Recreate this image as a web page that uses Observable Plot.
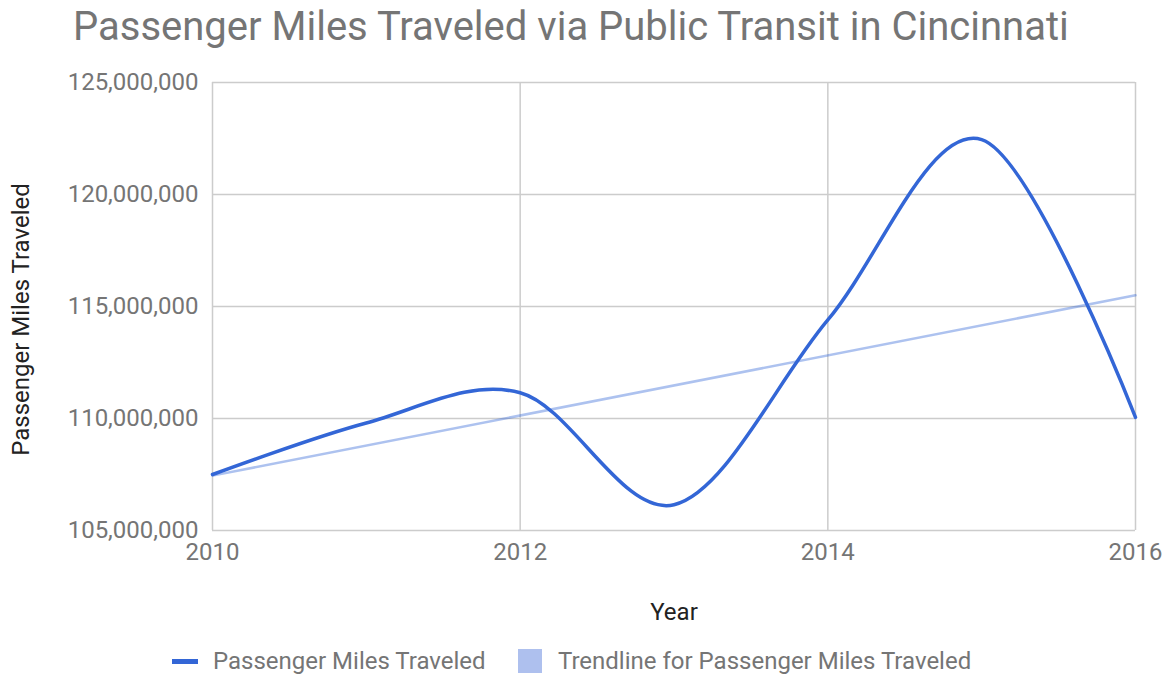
<!DOCTYPE html>
<html>
<head>
<meta charset="utf-8">
<script src="https://cdn.jsdelivr.net/npm/d3@7"></script>
<script src="https://cdn.jsdelivr.net/npm/@observablehq/plot@0.6"></script>
<style>
  html, body { margin: 0; padding: 0; background: #fff; }
  #wrap { position: relative; width: 1169px; height: 676px; font-family: Roboto, sans-serif; overflow: hidden; }
  #title { position: absolute; left: 73px; top: 7px; font-size: 40px; line-height: 40px; color: #757575; white-space: nowrap; }
  #chart { position: absolute; left: 0; top: 70px; }
  .leg { position: absolute; top: 646px; height: 30px; display: flex; align-items: center; font-size: 24px; color: #757575; white-space: nowrap; }
  .sw-line { width: 26px; height: 5px; background: #3366d6; margin-right: 15px; }
  .sw-box { width: 24px; height: 24px; background: #aec0ee; margin-right: 16px; }
</style>
</head>
<body>
<div id="wrap">
  <div id="title"></div>
  <div id="chart"></div>
  <div class="leg" id="leg1" style="left:172px"><div class="sw-line"></div><span></span></div>
  <div class="leg" id="leg2" style="left:518px"><div class="sw-box"></div><span></span></div>
</div>
<script>
const titleText = "Passenger Miles Traveled via Public Transit in Cincinnati";
const xTitle = "Year";
const yTitle = "Passenger Miles Traveled";
const seriesName = "Passenger Miles Traveled";
const trendName = "Trendline for Passenger Miles Traveled";

const years = [2010, 2011, 2012, 2013, 2014, 2015, 2016];
const miles = [107500000, 109800000, 111150000, 106150000, 114400000, 122450000, 110050000];

const trendYears = [2010, 2016];
const trendValues = [107450000, 115500000];

const xTicks = [2010, 2012, 2014, 2016];
const yTicks = [105000000, 110000000, 115000000, 120000000, 125000000];

const data = years.map((y, i) => ({year: y, value: miles[i]}));
const trend = trendYears.map((y, i) => ({year: y, value: trendValues[i]}));

document.getElementById("title").textContent = titleText;
document.querySelector("#leg1 span").textContent = seriesName;
document.querySelector("#leg2 span").textContent = trendName;

const gridStyle = {stroke: "#cccccc", strokeOpacity: 1, strokeWidth: 1.5};

const chart = Plot.plot({
  width: 1169,
  height: 570,
  marginTop: 12,
  marginLeft: 212,
  marginRight: 34,
  marginBottom: 110,
  style: {fontFamily: "Roboto, sans-serif", fontSize: "24px", color: "#757575", background: "transparent", overflow: "visible"},
  x: {domain: [2010, 2016]},
  y: {domain: [105000000, 125000000]},
  marks: [
    Plot.gridY(yTicks, gridStyle),
    Plot.gridX(xTicks, gridStyle),
    Plot.axisX(xTicks, {tickSize: 0, tickPadding: 12, tickFormat: d => String(d), label: null, fontSize: 24, fill: "#757575"}),
    Plot.axisY(yTicks, {tickSize: 0, tickPadding: 14, tickFormat: d3.format(","), label: null, fontSize: 24, fill: "#757575"}),
    Plot.line(trend, {x: "year", y: "value", stroke: "#3366d6", strokeOpacity: 0.4, strokeWidth: 2.5}),
    Plot.line(data, {x: "year", y: "value", stroke: "#3366d6", strokeWidth: 3.5, curve: "cardinal"}),
    Plot.text([xTitle], {frameAnchor: "bottom", textAnchor: "middle", lineAnchor: "middle", dy: 82, fontSize: 24, fill: "#222", text: d => d}),
    Plot.text([yTitle], {frameAnchor: "left", textAnchor: "middle", lineAnchor: "middle", rotate: -90, dx: -191, dy: 13, fontSize: 24, fill: "#222", text: d => d})
  ]
});
document.getElementById("chart").appendChild(chart);
</script>
</body>
</html>
